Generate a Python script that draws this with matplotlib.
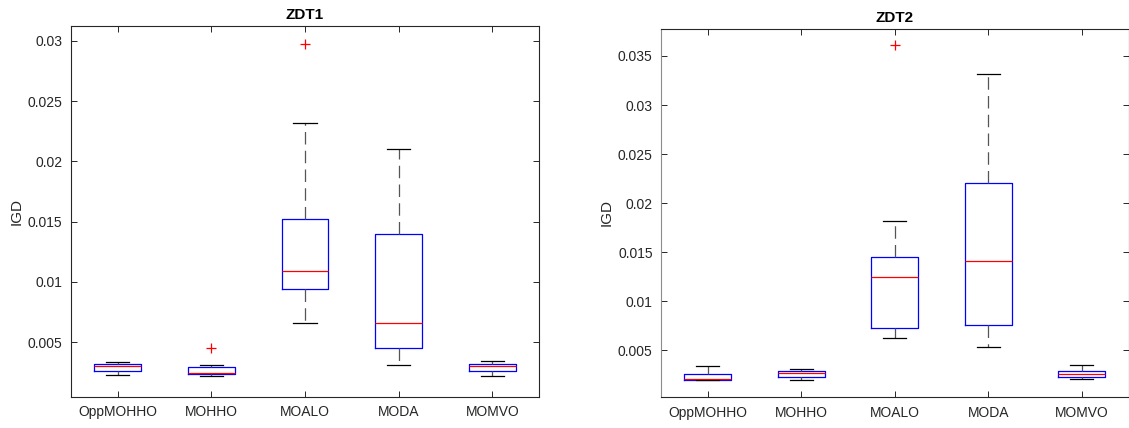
import matplotlib
matplotlib.use("Agg")
import matplotlib.pyplot as plt

plt.rcParams["font.family"] = ["Liberation Sans", "DejaVu Sans"]

labels = ["OppMOHHO", "MOHHO", "MOALO", "MODA", "MOMVO"]

# ZDT1 box statistics (IGD)
zdt1_whislo = [0.00229, 0.00218, 0.00663, 0.00314, 0.00223]
zdt1_q1 = [0.00262, 0.00237, 0.00942, 0.00450, 0.00262]
zdt1_med = [0.00300, 0.00248, 0.01094, 0.00660, 0.00300]
zdt1_q3 = [0.00320, 0.00298, 0.01520, 0.01400, 0.00322]
zdt1_whishi = [0.00337, 0.00314, 0.02320, 0.02100, 0.00345]
zdt1_fliers = [[], [0.00455], [0.02973], [], []]

# ZDT2 box statistics (IGD)
zdt2_whislo = [0.00196, 0.00197, 0.00628, 0.00530, 0.00204]
zdt2_q1 = [0.00199, 0.00225, 0.00724, 0.00758, 0.00225]
zdt2_med = [0.00212, 0.00272, 0.01244, 0.01413, 0.00255]
zdt2_q3 = [0.00261, 0.00292, 0.01448, 0.02202, 0.00289]
zdt2_whishi = [0.00343, 0.00312, 0.01818, 0.03320, 0.00347]
zdt2_fliers = [[], [], [0.03612], [], []]

TXT = "#262626"


def make_stats(whislo, q1, med, q3, whishi, fliers):
    return [dict(label=l, whislo=a, q1=b, med=c, q3=d, whishi=e, fliers=f)
            for l, a, b, c, d, e, f in zip(labels, whislo, q1, med, q3, whishi, fliers)]


def draw(ax, stats, title, ylim, yticks):
    ax.bxp(stats, positions=range(1, len(stats) + 1), widths=0.5,
           showfliers=True, patch_artist=False,
           boxprops=dict(color="blue", lw=0.9),
           medianprops=dict(color="red", lw=0.9),
           whiskerprops=dict(color="#555555", lw=0.9, linestyle=(0, (10, 5))),
           capprops=dict(color="black", lw=0.9),
           capwidths=0.25,
           flierprops=dict(marker="+", markeredgecolor="red", markersize=7,
                           markeredgewidth=0.9, linestyle="none"))
    ax.set_xlim(0.5, 5.5)
    ax.set_ylim(*ylim)
    ax.set_yticks(yticks)
    ax.set_yticklabels(["%g" % t for t in yticks])
    ax.set_xticks(range(1, 6))
    ax.set_xticklabels(labels)
    ax.tick_params(direction="in", length=4.5, width=0.7, top=True, right=True,
                   labelsize=10, colors=TXT, pad=6)
    for s in ax.spines.values():
        s.set_color(TXT)
        s.set_linewidth(0.8)
    ax.set_title(title, fontsize=11, fontweight="bold", pad=5)
    ax.set_ylabel("IGD", fontsize=11, color=TXT, labelpad=3)


fig = plt.figure(figsize=(11.29, 4.28), dpi=100)
ax1 = fig.add_axes([0.0626, 0.0731, 0.4151, 0.8661])
ax2 = fig.add_axes([0.5855, 0.0713, 0.4141, 0.8621])

draw(ax1, make_stats(zdt1_whislo, zdt1_q1, zdt1_med, zdt1_q3, zdt1_whishi, zdt1_fliers),
     "ZDT1", (0.000485, 0.03122), [0.005, 0.01, 0.015, 0.02, 0.025, 0.03])
draw(ax2, make_stats(zdt2_whislo, zdt2_q1, zdt2_med, zdt2_q3, zdt2_whishi, zdt2_fliers),
     "ZDT2", (0.00019, 0.0378), [0.005, 0.01, 0.015, 0.02, 0.025, 0.03, 0.035])
ax2.spines["left"].set_color("#8c8c8c")

fig.savefig("out.png", dpi=100)
